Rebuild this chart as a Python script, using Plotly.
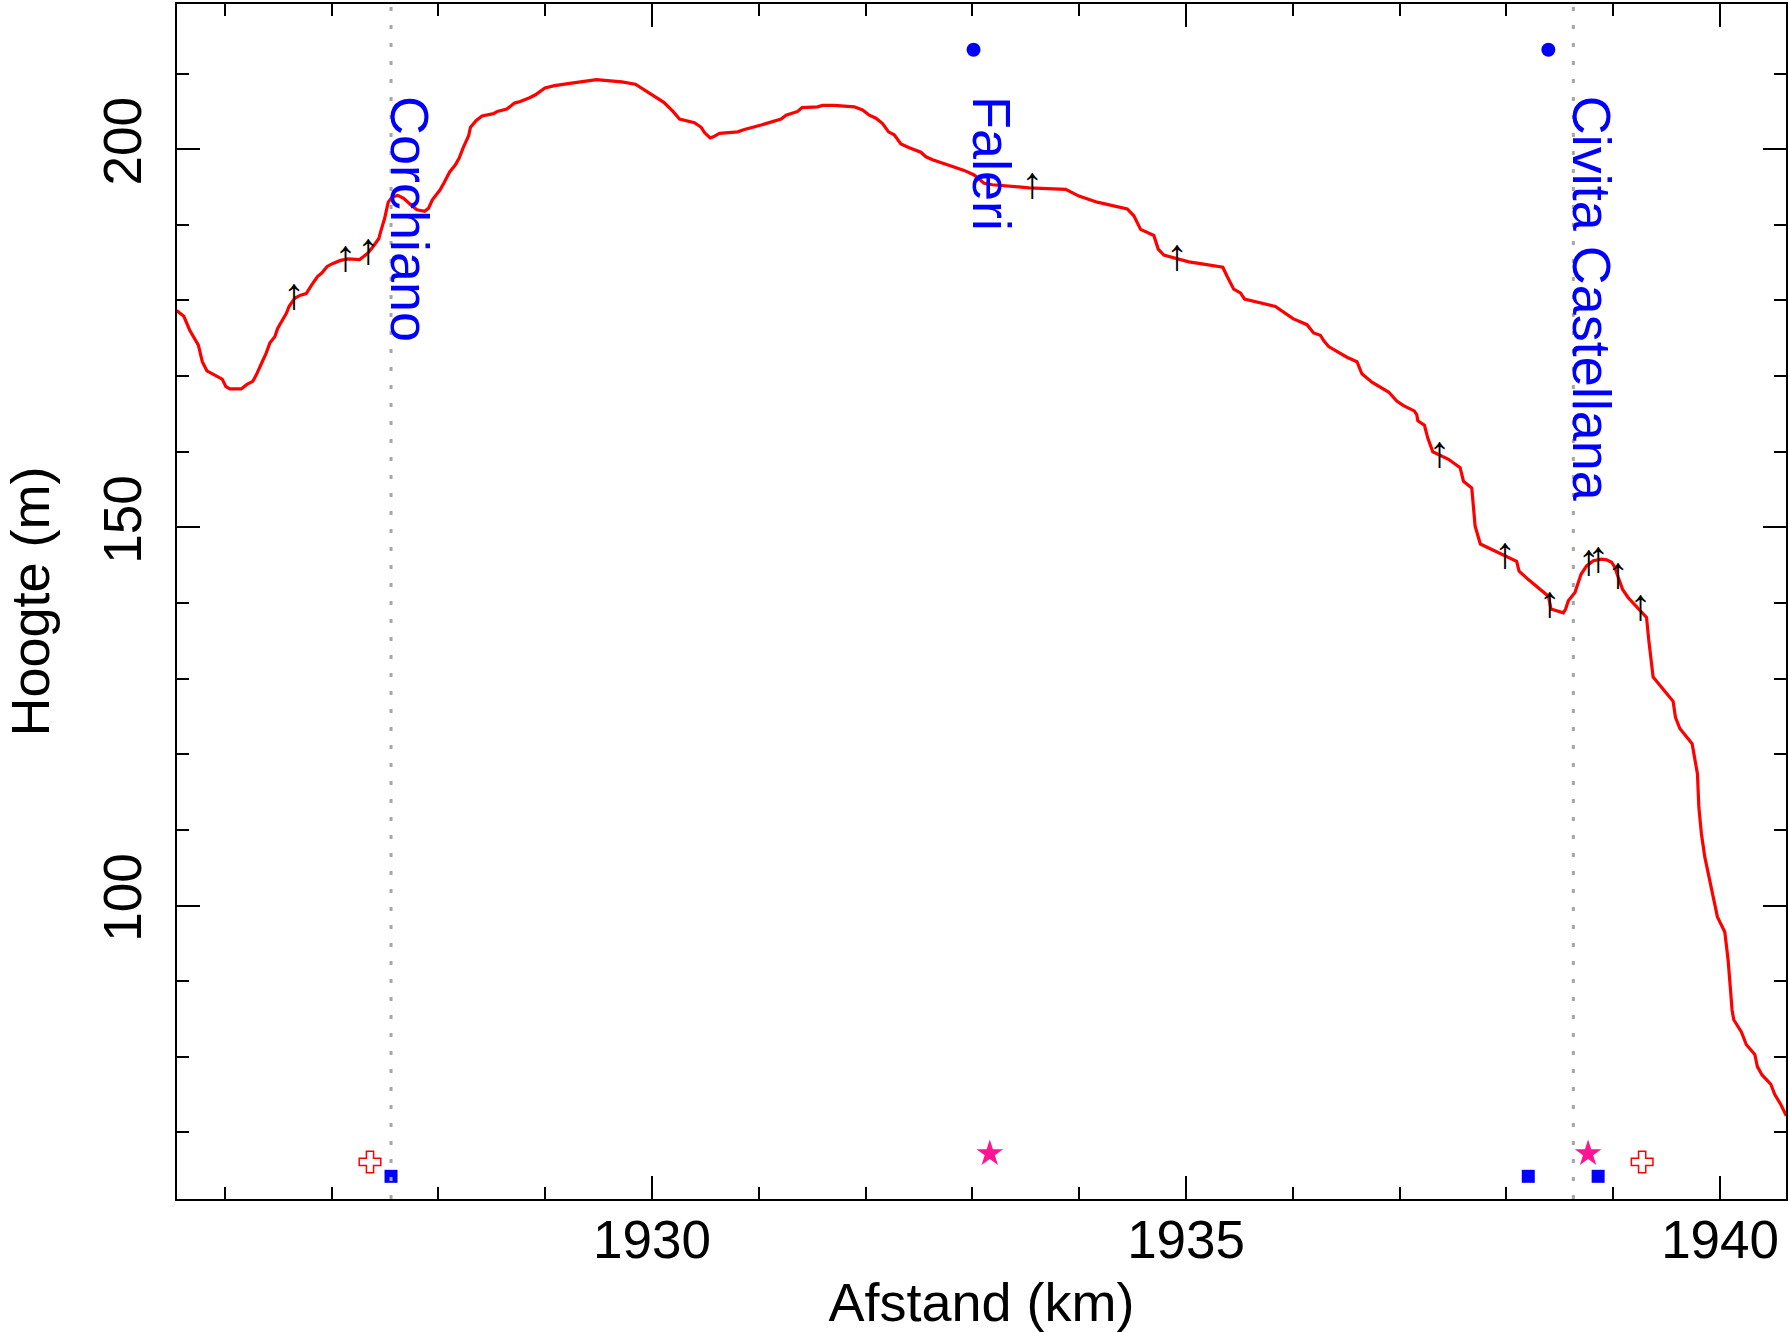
import plotly.graph_objects as go

# ---- elevation profile (km along route, metres) ----
dist_km = [
    1925.55, 1925.563, 1925.616, 1925.67, 1925.752, 1925.789, 1925.832, 1925.975, 1926.01, 1926.046,
    1926.153, 1926.207, 1926.261, 1926.296, 1926.35, 1926.386, 1926.422, 1926.468, 1926.494, 1926.536,
    1926.576, 1926.601, 1926.654, 1926.708, 1926.762, 1926.815, 1926.869, 1926.905, 1926.958, 1927.012,
    1927.083, 1927.155, 1927.262, 1927.299, 1927.334, 1927.387, 1927.442, 1927.459, 1927.495, 1927.53,
    1927.567, 1927.62, 1927.674, 1927.745, 1927.799, 1927.871, 1927.907, 1927.943, 1928.014, 1928.05,
    1928.105, 1928.157, 1928.193, 1928.229, 1928.283, 1928.3, 1928.354, 1928.408, 1928.515, 1928.551,
    1928.64, 1928.712, 1928.765, 1928.854, 1928.908, 1928.997, 1929.087, 1929.23, 1929.373, 1929.48,
    1929.556, 1929.716, 1929.844, 1929.898, 1929.962, 1930.036, 1930.11, 1930.196, 1930.257, 1930.397,
    1930.46, 1930.491, 1930.544, 1930.569, 1930.631, 1930.802, 1930.865, 1931.021, 1931.083, 1931.208,
    1931.255, 1931.363, 1931.404, 1931.55, 1931.597, 1931.706, 1931.893, 1931.971, 1932.034, 1932.096,
    1932.158, 1932.214, 1932.267, 1932.33, 1932.408, 1932.517, 1932.564, 1932.626, 1932.813, 1932.922,
    1933.015, 1933.109, 1933.187, 1933.53, 1933.873, 1933.997, 1934.168, 1934.309, 1934.449, 1934.511,
    1934.574, 1934.698, 1934.739, 1934.792, 1934.932, 1935.026, 1935.119, 1935.344, 1935.384, 1935.446,
    1935.509, 1935.547, 1935.836, 1935.977, 1936.001, 1936.132, 1936.194, 1936.257, 1936.288, 1936.335,
    1936.506, 1936.6, 1936.646, 1936.74, 1936.896, 1936.973, 1937.036, 1937.136, 1937.16, 1937.17,
    1937.232, 1937.263, 1937.285, 1937.31, 1937.457, 1937.566, 1937.597, 1937.675, 1937.706, 1937.725,
    1937.755, 1938.095, 1938.118, 1938.205, 1938.392, 1938.417, 1938.532, 1938.554, 1938.579, 1938.641,
    1938.657, 1938.698, 1938.75, 1938.813, 1938.89, 1938.937, 1938.984, 1939.015, 1939.046, 1939.087,
    1939.14, 1939.202, 1939.311, 1939.333, 1939.373, 1939.467, 1939.56, 1939.582, 1939.623, 1939.738,
    1939.788, 1939.801, 1939.825, 1939.857, 1939.904, 1939.934, 1939.975, 1940.044, 1940.075, 1940.1,
    1940.112, 1940.128, 1940.199, 1940.246, 1940.325, 1940.349, 1940.393, 1940.474, 1940.512, 1940.568,
    1940.62,
]
elev_m = [
    178.7, 178.5, 177.9, 176.1, 174.1, 171.9, 170.7, 169.6, 168.6, 168.3,
    168.3, 168.9, 169.3, 170.2, 171.9, 173.0, 174.4, 175.2, 176.3, 177.4,
    178.3, 179.2, 180.3, 180.7, 180.9, 182.1, 183.2, 183.6, 184.5, 184.9,
    185.3, 185.5, 185.4, 185.8, 186.2, 187.1, 188.2, 189.1, 190.8, 193.0,
    193.7, 193.9, 193.5, 192.6, 192.0, 191.8, 192.2, 193.3, 194.6, 195.5,
    197.0, 197.9, 198.8, 200.1, 201.8, 202.9, 203.8, 204.4, 204.7, 205.0,
    205.3, 206.1, 206.3, 206.8, 207.2, 208.1, 208.4, 208.7, 209.0, 209.2,
    209.1, 208.9, 208.6, 208.1, 207.5, 206.8, 206.2, 205.0, 204.0, 203.5,
    202.9, 202.2, 201.5, 201.6, 202.1, 202.3, 202.6, 203.2, 203.5, 204.0,
    204.5, 205.0, 205.5, 205.6, 205.8, 205.8, 205.6, 205.2, 204.5, 204.1,
    203.4, 202.3, 201.9, 200.7, 200.2, 199.6, 199.0, 198.6, 197.7, 197.2,
    196.6, 195.5, 195.3, 194.9, 194.7, 193.8, 193.0, 192.5, 192.1, 191.2,
    189.4, 188.6, 186.8, 186.0, 185.5, 185.1, 184.9, 184.4, 183.2, 181.5,
    181.0, 180.2, 179.2, 177.9, 177.6, 176.8, 175.7, 175.4, 174.7, 173.9,
    172.5, 171.9, 170.3, 169.2, 167.9, 166.7, 166.1, 165.4, 164.9, 164.1,
    163.5, 161.8, 161.0, 160.0, 159.0, 157.9, 156.1, 155.2, 150.2, 149.3,
    147.8, 145.5, 144.2, 143.1, 140.9, 139.2, 138.7, 139.2, 140.3, 141.4,
    142.0, 143.8, 144.9, 145.6, 145.8, 145.7, 145.4, 144.7, 143.4, 141.8,
    140.7, 139.8, 138.1, 135.0, 130.2, 128.6, 127.0, 124.9, 123.4, 121.4,
    117.4, 113.0, 109.5, 106.4, 103.3, 101.1, 98.5, 96.5, 92.8, 88.4,
    86.2, 84.9, 83.3, 81.6, 80.3, 78.7, 77.6, 76.4, 75.0, 73.7,
    72.2,
]

# ---- small up-arrows along the profile (centre of each arrow) ----
arrow_km = [1926.647, 1927.13, 1927.342, 1933.56, 1934.916, 1937.373,
            1937.985, 1938.404, 1938.771, 1938.858, 1939.043, 1939.255]
arrow_m = [180.3, 185.35, 186.3, 195.0, 185.45, 159.4,
           146.1, 139.55, 145.1, 145.6, 143.5, 139.25]

# ---- places ----
place_names = ["Corchiano", "Faleri", "Civita Castellana"]
place_km = [1927.556, 1933.01, 1938.626]
place_label_m = [207.3, 207.3, 207.3]
vline_km = [1927.556, 1938.626]
dot_km = [1933.01, 1938.392]
dot_m = [213.15, 213.15]

# ---- symbols at the bottom ----
square_km = [1927.556, 1938.204, 1938.858]
square_m = [64.2, 64.2, 64.2]
star_km = [1933.162, 1938.764]
star_m = [67.2, 67.2]
cross_km = [1927.359, 1939.27]
cross_m = [66.1, 66.1]

x_range = [1925.552, 1940.617]
y_range = [61.2, 219.2]

FONT = "Liberation Sans, Arial, sans-serif"
BLUE = "#0000ff"

fig = go.Figure()
fig.add_trace(go.Scatter(x=dist_km, y=elev_m, mode="lines",
                         line=dict(color="#ff0000", width=3.2), hoverinfo="skip"))
fig.add_trace(go.Scatter(x=arrow_km, y=arrow_m, mode="text", text=["↑"] * len(arrow_km),
                         textposition="middle center", hoverinfo="skip",
                         textfont=dict(family="Liberation Sans", size=44, color="black")))
fig.add_trace(go.Scatter(x=dot_km, y=dot_m, mode="markers",
                         marker=dict(symbol="circle", size=14, color=BLUE)))
fig.add_trace(go.Scatter(x=square_km, y=square_m, mode="markers",
                         marker=dict(symbol="square", size=13, color=BLUE)))
fig.add_trace(go.Scatter(x=star_km, y=star_m, mode="markers",
                         marker=dict(symbol="star", size=20, color="#ff1493")))
fig.add_trace(go.Scatter(x=cross_km, y=cross_m, mode="markers",
                         marker=dict(symbol="cross-open", size=18, color="#ff0000",
                                     line=dict(color="#ff0000", width=1.5))))

for xv in vline_km:
    fig.add_shape(type="line", xref="x", yref="paper", x0=xv, x1=xv, y0=0, y1=1,
                  line=dict(color="#a6a6a6", width=3, dash="4px,14px"))

for name, xv, yv in zip(place_names, place_km, place_label_m):
    fig.add_annotation(x=xv, y=yv, text=name, textangle=90, showarrow=False,
                       xanchor="left", yanchor="top", xshift=-13,
                       font=dict(family=FONT, size=54, color=BLUE))

axis_common = dict(
    showgrid=False, zeroline=False, showline=True, linecolor="black", linewidth=2,
    mirror="allticks", ticks="inside", ticklen=23, tickwidth=2, tickcolor="black",
    tickfont=dict(family=FONT, size=53, color="black"),
)
fig.update_xaxes(range=x_range, tickmode="linear", tick0=1930, dtick=5,
                 minor=dict(ticks="inside", dtick=1, ticklen=12, tickwidth=2, tickcolor="black"),
                 ticklabelstandoff=-7,
                 title=dict(text="Afstand (km)", font=dict(family=FONT, size=54, color="black"), standoff=19),
                 **axis_common)
fig.update_yaxes(range=y_range, tickmode="linear", tick0=0, dtick=50, tickangle=-90,
                 minor=dict(ticks="inside", dtick=10, ticklen=12, tickwidth=2, tickcolor="black"),
                 ticklabelstandoff=13,
                 title=dict(text="Hoogte (m)", font=dict(family=FONT, size=54, color="black"), standoff=40),
                 **axis_common)

fig.update_layout(width=1790, height=1332, margin=dict(l=177, r=2, t=2, b=133),
                  plot_bgcolor="white", paper_bgcolor="white", showlegend=False,
                  font=dict(family=FONT))

fig.write_html("out.html", config={"displayModeBar": False},
               post_script="document.body.style.margin='0px';")
